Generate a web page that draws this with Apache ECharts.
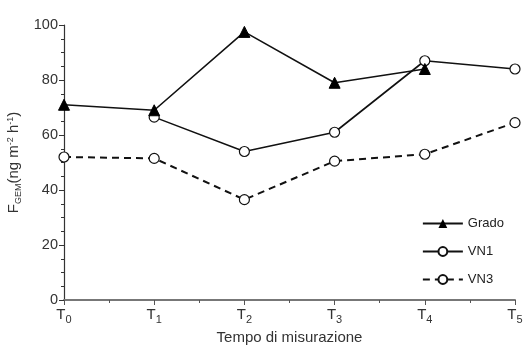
<!DOCTYPE html>
<html>
<head>
<meta charset="utf-8">
<script src="https://cdn.jsdelivr.net/npm/echarts@6/dist/echarts.min.js"></script>
<style>
    html, body { margin: 0; padding: 0; background: #fff; }
    #chart { width: 531px; height: 345px; }
</style>
</head>
<body>
<div id="chart"></div>
<script>
// tempi di misurazione (T0..T5)
const timeLabels = ['0', '1', '2', '3', '4', '5']
const grado = [71, 69, 97.5, 79, 84, null]
const vn1 = [null, 66.5, 54, 61, 87, 84]
const vn3 = [52, 51.5, 36.5, 50.5, 53, 64.5]

const toPairs = arr => arr.map((v, i) => [i, v])

const chart = echarts.init(document.getElementById('chart'))
const font = 'Liberation Sans, Arial, sans-serif'

const option = {
    animation: false,
    grid: { left: 64, right: 16, top: 25, bottom: 45, containLabel: false, outerBoundsMode: 'none' },
    legend: {
        orient: 'vertical',
        right: 22,
        top: 212,
        itemWidth: 40,
        itemHeight: 11,
        itemGap: 15,
        textStyle: { fontFamily: font, fontSize: 13, color: '#222' },
        data: ['Grado', 'VN1', 'VN3']
    },
    xAxis: {
        type: 'value',
        min: 0,
        max: 5,
        interval: 1,
        name: 'Tempo di misurazione',
        nameLocation: 'middle',
        nameGap: 25,
        nameTextStyle: { fontFamily: font, fontSize: 15, color: '#333' },
        axisLine: { lineStyle: { color: '#777', width: 2 } },
        axisTick: { length: 5, lineStyle: { color: '#555' } },
        minorTick: { show: true, splitNumber: 2, length: 3, lineStyle: { color: '#555' } },
        splitLine: { show: false },
        axisLabel: {
            margin: 5,
            formatter: v => '{t|T}{s|' + timeLabels[v] + '}',
            rich: {
                t: { fontFamily: font, fontSize: 15, color: '#333' },
                s: { fontFamily: font, fontSize: 11, color: '#333', verticalAlign: 'bottom', padding: [9, 0, 0, 0] }
            }
        }
    },
    yAxis: {
        type: 'value',
        min: 0,
        max: 100,
        interval: 20,
        name: '{m|F}{s|GEM}{m|(ng m}{u|-2}{m| h}{u|-1}{m|)}',
        nameLocation: 'middle',
        nameGap: 40,
        nameTextStyle: {
            rich: {
                m: { fontFamily: font, fontSize: 15, color: '#333' },
                s: { fontFamily: font, fontSize: 9, color: '#333', padding: [9, 0, 0, 0] },
                u: { fontFamily: font, fontSize: 9, color: '#333', padding: [0, 0, 7, 0] }
            }
        },
        axisLine: { show: true, lineStyle: { color: '#333', width: 1.2 } },
        axisTick: { show: true, length: 5, lineStyle: { color: '#333' } },
        minorTick: { show: true, splitNumber: 4, length: 3, lineStyle: { color: '#333' } },
        splitLine: { show: false },
        axisLabel: { fontFamily: font, fontSize: 14.5, color: '#333', margin: 6 }
    },
    series: [
        {
            name: 'Grado',
            type: 'line',
            data: toPairs(grado),
            symbol: 'triangle',
            symbolSize: 11,
            itemStyle: { color: '#000', borderColor: '#000' },
            lineStyle: { color: '#111', width: 1.6 },
            z: 3
        },
        {
            name: 'VN1',
            type: 'line',
            data: toPairs(vn1),
            symbol: 'circle',
            symbolSize: 10,
            itemStyle: { color: '#fff', borderColor: '#111', borderWidth: 1.2 },
            lineStyle: { color: '#111', width: 1.6 },
            z: 2
        },
        {
            name: 'VN3',
            type: 'line',
            data: toPairs(vn3),
            symbol: 'circle',
            symbolSize: 10,
            itemStyle: { color: '#fff', borderColor: '#111', borderWidth: 1.2 },
            lineStyle: { color: '#111', width: 2, type: [7, 5] },
            z: 2
        }
    ]
}
chart.setOption(option)
</script>
</body>
</html>
